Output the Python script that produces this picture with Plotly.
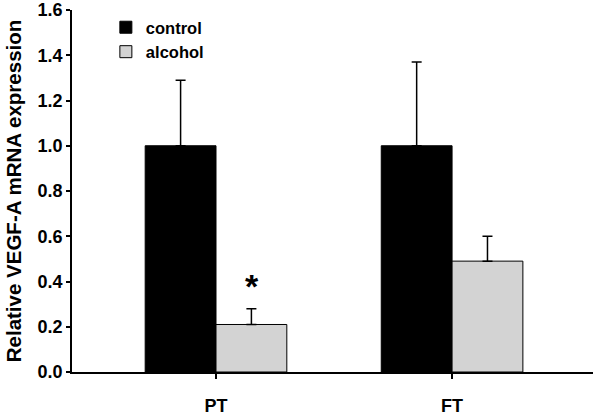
import plotly.graph_objects as go

categories = ["PT", "FT"]
control_vals = [1.0, 1.0]
control_err = [0.29, 0.37]
alcohol_vals = [0.21, 0.49]
alcohol_err = [0.07, 0.11]
y_ticks = [0.0, 0.2, 0.4, 0.6, 0.8, 1.0, 1.2, 1.4, 1.6]

FONT = "Liberation Sans, Arial, sans-serif"

fig = go.Figure()
fig.add_trace(go.Bar(
    name="control", x=categories, y=control_vals,
    marker=dict(color="black", line=dict(color="black", width=1)),
    error_y=dict(type="data", array=control_err, arrayminus=[0, 0], symmetric=False,
                 color="black", thickness=1.5, width=5),
))
fig.add_trace(go.Bar(
    name="alcohol", x=categories, y=alcohol_vals,
    marker=dict(color="#d3d3d3", line=dict(color="black", width=1)),
    error_y=dict(type="data", array=alcohol_err, arrayminus=[0, 0], symmetric=False,
                 color="black", thickness=1.5, width=5),
))

fig.add_annotation(x=0, y=0.40, xshift=36, text="<b>*</b>", showarrow=False,
                   font=dict(size=34, color="black", family=FONT), yanchor="middle",
                   yshift=-4)

fig.update_layout(
    width=601, height=418,
    margin=dict(l=72, r=8, t=10, b=46, autoexpand=False),
    paper_bgcolor="white", plot_bgcolor="white",
    barmode="group", bargap=0.4, bargroupgap=0,
    font=dict(family=FONT, color="black", size=16),
    legend=dict(x=0.065, y=1.0, xanchor="left", yanchor="top",
                font=dict(size=16.5, family=FONT, weight="bold"),
                bgcolor="rgba(0,0,0,0)", tracegroupgap=2),
    xaxis=dict(range=[-0.61, 1.597], showline=True, linecolor="black", linewidth=1.5,
               ticks="outside", ticklen=5, tickcolor="black", tickwidth=1.5,
               tickfont=dict(size=18, family=FONT, weight="bold"), showgrid=False,
               zeroline=False, automargin=False, ticklabelstandoff=12),
    yaxis=dict(range=[0, 1.6], tickvals=y_ticks, ticktext=[f"{v:.1f}" for v in y_ticks],
               showline=True, linecolor="black", linewidth=1.5,
               ticks="outside", ticklen=4, tickcolor="black", tickwidth=1.5,
               tickfont=dict(size=18, family=FONT, weight="bold"), showgrid=False,
               zeroline=False, automargin=False,
               title=dict(text="Relative VEGF-A mRNA expression",
                          font=dict(size=20.5, family=FONT, weight="bold"), standoff=10)),
)

fig.write_html("out.html", config={"displayModeBar": False},
               post_script="document.body.style.margin='0';")
